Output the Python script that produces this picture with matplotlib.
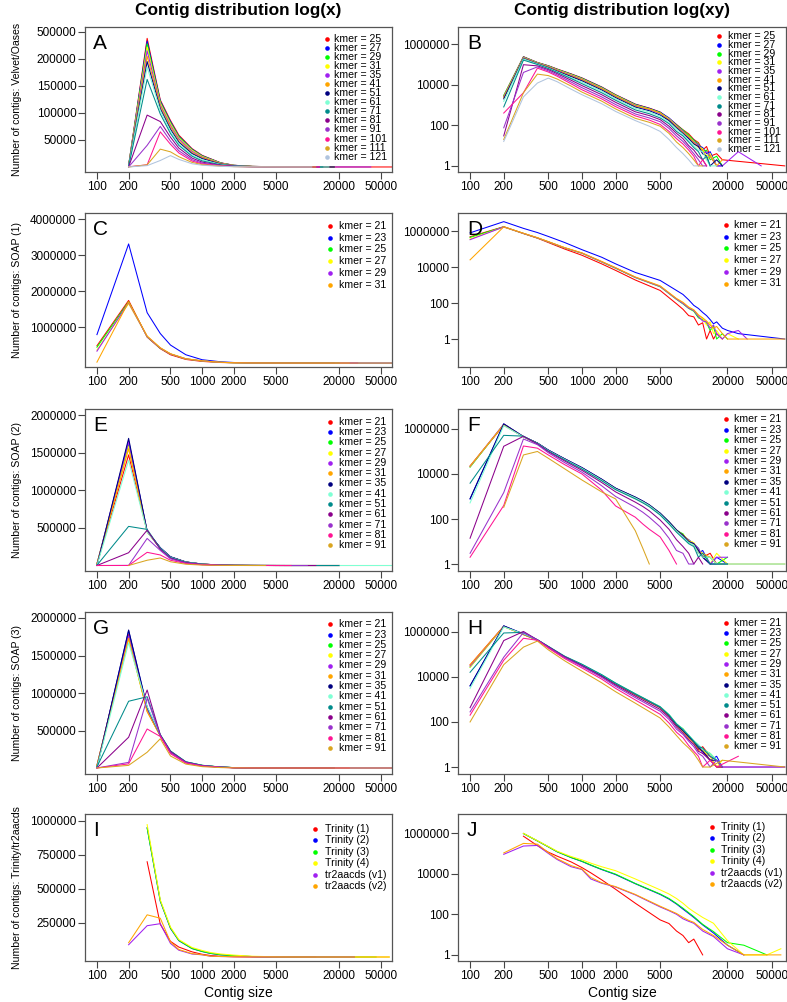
import numpy as np
import matplotlib
matplotlib.use("Agg")
import matplotlib.pyplot as plt

plt.rcParams["font.family"] = ["Liberation Sans", "DejaVu Sans"]

nan = np.nan

# ---------------------------------------------------------------
# Data: number of contigs per contig-size bin
# ---------------------------------------------------------------

# Velvet/Oases (panels A and B)
velvet_sizes = [200, 300, 400, 500, 600, 800, 1000, 1500, 2000, 3000,
                4000, 5000, 6000, 7000, 8000, 9000, 10000, 11000, 12000, 13000,
                14000, 16000, 18000, 25000, 40000, 65000]
velvet_labels = ["kmer = 25", "kmer = 27", "kmer = 29", "kmer = 31", "kmer = 35",
                 "kmer = 41", "kmer = 51", "kmer = 61", "kmer = 71", "kmer = 81",
                 "kmer = 91", "kmer = 101", "kmer = 111", "kmer = 121"]
velvet_counts = [
    [2800, 238000, 124000, 86000, 59000, 34000, 21500, 7700, 3200, 1100,
     700, 450, 220, 110, 60, 38, 20, 14, 6, 9, 3, 4, 2, nan, nan, 1],
    [2700, 233000, 122000, 84000, 57000, 33000, 20800, 7500, 3100, 1070,
     680, 440, 230, 105, 55, 30, 19, 10, 8, 4, 5, 1, 1, nan, nan, nan],
    [2900, 228000, 120000, 82000, 56000, 32000, 20200, 7200, 3000, 1030,
     650, 420, 200, 100, 58, 33, 18, 12, 5, 6, 2, 3, 1, nan, nan, nan],
    [2600, 222000, 118000, 80000, 54000, 31000, 19400, 6900, 2900, 990,
     630, 400, 210, 95, 50, 28, 16, 9, 7, 3, 4, 1, nan, nan, nan, nan],
    [2500, 215000, 115000, 77000, 52000, 29000, 18300, 6500, 2700, 940,
     600, 380, 190, 90, 52, 25, 15, 11, 4, 5, 3, 1, 1, 5, 1, nan],
    [2300, 205000, 112000, 74000, 49000, 27000, 17200, 6200, 2600, 880,
     620, 400, 180, 85, 45, 27, 14, 8, 6, 2, 3, 1, 2, nan, nan, nan],
    [2000, 195000, 108000, 70000, 46000, 25000, 15500, 5500, 2300, 790,
     520, 320, 170, 75, 40, 22, 12, 9, 4, 3, 1, 2, 1, nan, nan, nan],
    [1500, 185000, 104000, 66000, 43000, 22000, 13300, 4800, 2000, 680,
     450, 280, 140, 65, 35, 18, 10, 6, 5, 2, 1, 1, nan, nan, nan, nan],
    [800, 162000, 98000, 62000, 40000, 20000, 11200, 4000, 1700, 570,
     370, 230, 120, 50, 30, 15, 8, 5, 2, 3, 1, nan, nan, nan, nan, nan],
    [30, 96000, 84000, 55000, 35000, 16500, 9000, 3200, 1350, 460,
     300, 190, 90, 40, 22, 10, 6, 3, 2, 1, nan, nan, nan, nan, nan, nan],
    [75, 40000, 75000, 48000, 30000, 13500, 7100, 2500, 1050, 360,
     230, 150, 70, 30, 16, 8, 4, 2, 1, 1, nan, nan, nan, nan, nan, nan],
    [400, 4000, 65000, 42000, 26000, 11000, 5600, 2000, 830, 290,
     180, 110, 50, 22, 12, 6, 3, 1, 2, 1, nan, nan, nan, nan, nan, nan],
    [20, 4000, 33000, 28000, 19000, 8500, 4300, 1550, 640, 220,
     140, 90, 40, 15, 8, 4, 2, 1, 1, nan, nan, nan, nan, nan, nan, nan],
    [16, 2500, 12000, 21000, 14000, 6000, 3200, 1150, 480, 170,
     90, 50, 20, 8, 4, 2, 1, 1, nan, nan, nan, nan, nan, nan, nan, nan],
]

# SOAP (1) (panels C and D)
soap1_sizes = [100, 200, 300, 400, 500, 700, 1000, 1500, 2000, 3000,
               5000, 7000, 8000, 9000, 10000, 11000, 12000, 13000, 14000, 15000,
               16000, 18000, 20000, 25000, 30000, 65000]
soap1_labels = ["kmer = 21", "kmer = 23", "kmer = 25", "kmer = 27", "kmer = 29", "kmer = 31"]
soap1_counts = [
    [480000, 1740000, 720000, 400000, 230000, 100000, 45000, 15000, 6500, 1900,
     500, 91, 45, 20, 17, 6, 8, 1, 3, 1, 2, 1, nan, nan, nan, nan],
    [790000, 3310000, 1400000, 820000, 500000, 230000, 92000, 35000, 15000, 5000,
     1800, 500, 300, 150, 74, 50, 30, 20, 12, 7, 9, 4, 3, 2, nan, 1],
    [440000, 1700000, 730000, 410000, 250000, 115000, 58000, 19000, 8500, 2600,
     800, 160, 90, 50, 35, 15, 12, 8, 3, 5, 1, 2, 1, nan, nan, nan],
    [360000, 1650000, 740000, 420000, 255000, 118000, 60000, 20000, 9000, 2700,
     850, 170, 100, 55, 40, 20, 14, 6, 9, 2, 3, 1, 2, 1, nan, nan],
    [330000, 1680000, 735000, 415000, 252000, 117000, 59000, 19500, 8800, 2650,
     830, 165, 95, 52, 38, 18, 10, 9, 4, 6, 2, 1, 2, 3, 1, nan],
    [25000, 1700000, 750000, 425000, 258000, 120000, 61000, 20500, 9200, 2800,
     900, 180, 110, 60, 42, 22, 15, 10, 6, 4, 5, 2, 1, 1, 1, 1],
]

# SOAP (2) (panels E and F)
soap2_sizes = [100, 200, 300, 400, 500, 700, 1000, 1500, 2000, 3000,
               3500, 4000, 5000, 6000, 7000, 8000, 9000, 10000, 11000, 12000,
               14000, 16000, 20000, 65000]
soap_labels = ["kmer = 21", "kmer = 23", "kmer = 25", "kmer = 27", "kmer = 29",
               "kmer = 31", "kmer = 35", "kmer = 41", "kmer = 51", "kmer = 61",
               "kmer = 71", "kmer = 81", "kmer = 91"]
soap2_counts = [
    [22000, 1470000, 450000, 230000, 110000, 45000, 18000, 5500, 2200, 880,
     600, 400, 170, 70, 30, 20, 10, 7, 4, 2, 3, 1, 1, nan],
    [770, 1660000, 455000, 235000, 115000, 47000, 19000, 5800, 2300, 920,
     620, 420, 180, 75, 32, 18, 12, 8, 3, 4, 1, 2, 1, nan],
    [20000, 1600000, 452000, 232000, 112000, 46000, 18500, 5600, 2250, 900,
     610, 410, 175, 72, 31, 22, 9, 8, 5, 2, 2, 1, 2, nan],
    [21000, 1580000, 450000, 230000, 111000, 45500, 18300, 5600, 2250, 900,
     600, 415, 178, 74, 33, 19, 11, 9, 4, 3, 1, 3, 1, nan],
    [22000, 1640000, 453000, 233000, 113000, 46500, 18700, 5700, 2280, 910,
     615, 405, 176, 70, 32, 17, 10, 8, 5, 2, 1, 2, 2, nan],
    [23000, 1550000, 448000, 229000, 110000, 45000, 18000, 5500, 2200, 880,
     590, 400, 172, 68, 30, 20, 11, 7, 3, 3, 2, 1, 1, 1],
    [800, 1690000, 456000, 236000, 116000, 47500, 19200, 5900, 2350, 940,
     630, 425, 182, 76, 33, 19, 10, 8, 4, 2, 1, 1, 1, nan],
    [520, 1400000, 445000, 228000, 109000, 44500, 17800, 5400, 2150, 860,
     580, 390, 165, 66, 29, 16, 9, 7, 3, 2, 2, 1, 1, 1],
    [3900, 520000, 480000, 225000, 105000, 42000, 16500, 5000, 2000, 780,
     520, 350, 150, 60, 26, 14, 8, 6, 2, 3, 1, 1, 1, nan],
    [14, 170000, 470000, 215000, 98000, 38000, 14500, 4200, 1600, 560,
     360, 230, 90, 35, 12, 6, 3, 1, 2, 1, nan, nan, nan, nan],
    [3, 1500, 360000, 200000, 88000, 32000, 12000, 3000, 1000, 330,
     200, 120, 45, 14, 4, 3, 1, 1, nan, nan, nan, nan, nan, nan],
    [2, 400, 175000, 140000, 70000, 26000, 10000, 1900, 380, 120,
     60, 35, 16, 4, 1, nan, nan, nan, nan, nan, nan, nan, nan, nan],
    [nan, 330, 70000, 100000, 50000, 17000, 5400, 1600, 780, 30,
     5, 1, nan, nan, nan, nan, nan, nan, nan, nan, nan, nan, nan, nan],
]

# SOAP (3) (panels G and H)
soap3_sizes = [100, 200, 300, 400, 500, 700, 1000, 1500, 2000, 3000,
               5000, 6000, 7000, 8000, 9000, 10000, 11000, 12000, 14000, 16000,
               18000, 25000, 65000]
soap3_counts = [
    [34000, 1780000, 760000, 430000, 210000, 75000, 32000, 11000, 4800, 1600,
     430, 180, 70, 40, 20, 12, 6, 8, 3, 1, 1, nan, nan],
    [4000, 1830000, 800000, 435000, 215000, 78000, 33000, 11500, 5000, 1700,
     450, 200, 75, 45, 22, 13, 8, 5, 2, 3, 1, nan, nan],
    [27000, 1740000, 770000, 432000, 220000, 80000, 35000, 12000, 5200, 1750,
     470, 210, 80, 50, 25, 14, 9, 6, 4, 2, 1, nan, nan],
    [27000, 1720000, 765000, 430000, 218000, 79000, 34500, 11800, 5100, 1720,
     460, 195, 78, 42, 21, 13, 7, 5, 3, 1, 2, nan, nan],
    [30000, 1760000, 780000, 433000, 217000, 78500, 34000, 11700, 5000, 1700,
     455, 190, 76, 44, 24, 12, 9, 4, 3, 2, 1, nan, 1],
    [34000, 1730000, 750000, 428000, 212000, 76000, 33000, 11200, 4900, 1650,
     440, 185, 72, 38, 19, 12, 5, 6, 2, 1, 1, nan, nan],
    [4000, 1840000, 810000, 437000, 216000, 78000, 33500, 11600, 5000, 1700,
     450, 195, 74, 41, 22, 13, 7, 5, 2, 2, 1, nan, nan],
    [3100, 1670000, 820000, 440000, 225000, 82000, 36000, 12500, 5300, 1800,
     480, 215, 85, 48, 26, 15, 10, 6, 4, 2, 1, nan, nan],
    [16000, 890000, 950000, 445000, 228000, 83000, 36500, 12600, 5300, 1780,
     470, 205, 82, 46, 25, 14, 8, 7, 3, 2, 1, nan, nan],
    [430, 410000, 1040000, 440000, 220000, 78000, 32000, 10500, 4300, 1400,
     360, 160, 60, 32, 16, 10, 5, 4, 2, 1, 1, nan, nan],
    [280, 75000, 930000, 430000, 205000, 72000, 29000, 9500, 3800, 1200,
     300, 130, 48, 28, 14, 8, 4, 3, 1, 2, 1, nan, 1],
    [200, 55000, 520000, 420000, 190000, 65000, 25000, 8000, 3100, 950,
     220, 90, 35, 20, 9, 5, 3, 1, 2, 1, nan, 3, nan],
    [100, 35000, 210000, 390000, 160000, 52000, 18000, 5500, 2200, 680,
     150, 60, 25, 12, 7, 4, 2, 1, 1, nan, 2, nan, 1],
]

# Trinity / tr2aacds (panels I and J)
trinity_sizes = [200, 300, 400, 500, 600, 800, 1000, 1200, 1500, 2000,
                 3000, 5000, 6000, 7000, 8000, 9000, 10000, 12000, 15000, 20000,
                 28000, 45000, 60000]
trinity_labels = ["Trinity (1)", "Trinity (2)", "Trinity (3)", "Trinity (4)",
                  "tr2aacds (v1)", "tr2aacds (v2)"]
trinity_counts = [
    [nan, 700000, 240000, 115000, 73000, 38000, 20000, 11000, 5000, 1700,
     350, 53, 35, 15, 9, 4, 6, 1, nan, nan, nan, nan, nan],
    [nan, 950000, 410000, 210000, 120000, 62000, 40000, 26000, 16000, 9000,
     3200, 950, 560, 320, 180, 110, 70, 30, 12, 3, 1, nan, nan],
    [nan, 948000, 412000, 213000, 122000, 63000, 41000, 27000, 16500, 9500,
     3300, 1000, 600, 340, 200, 120, 77, 32, 14, 4, 3, 1, nan],
    [nan, 973000, 420000, 220000, 128000, 70000, 48000, 33000, 22000, 14000,
     5500, 1600, 1000, 600, 350, 200, 134, 70, 36, 5, 1, 1, 2],
    [90000, 230000, 245000, 100000, 50000, 22000, 16000, 5500, 3400, 2200,
     900, 230, 150, 100, 60, 45, 36, 15, 8, 2, 1, nan, nan],
    [105000, 310000, 285000, 110000, 55000, 25000, 17000, 6500, 3600, 2300,
     950, 250, 160, 110, 70, 50, 40, 18, 9, 3, 1, 1, 1],
]

kmer_colors = ["#FF0000", "#0000FF", "#00FF00", "#FFFF00", "#A020F0", "#FFA500",
               "#000080", "#7FFFD4", "#008B8B", "#8B008B", "#9932CC", "#FF1493",
               "#DAA520", "#B0C4DE"]

size_ticks = [100, 200, 500, 1000, 2000, 5000, 20000, 50000]
log_ticks = [1, 100, 10000, 1000000]

# ---------------------------------------------------------------
# Layout (pixel boxes of the original figure)
# ---------------------------------------------------------------
W, H = 787, 1002
fig = plt.figure(figsize=(W / 100, H / 100), dpi=100)

rows = [(27, 172), (213, 367), (409, 571), (612, 774), (814, 961)]
left_col = (85, 392)
right_col = (458, 786)


def px_axes(col, row):
    x0, x1 = col
    y0, y1 = row
    return fig.add_axes([x0 / W, 1 - y1 / H, (x1 - x0) / W, (y1 - y0) / H])


def draw_lines(ax, sizes, counts, colors):
    x = np.array(sizes, dtype=float)
    for row, col in zip(counts, colors):
        y = np.array(row, dtype=float)
        keep = ~np.isnan(y)
        ax.plot(x[keep], y[keep], color=col, lw=0.75)


def style(ax, xlim, ylim, yticks, yticklabels, log_y):
    ax.set_xscale("log")
    if log_y:
        ax.set_yscale("log")
    ax.set_xlim(xlim)
    ax.set_ylim(ylim)
    ax.set_xticks(size_ticks)
    ax.set_xticklabels([str(t) for t in size_ticks])
    ax.set_yticks(yticks)
    ax.set_yticklabels(yticklabels)
    ax.minorticks_off()
    ax.tick_params(direction="out", length=5, width=0.8, color="#444444",
                   labelsize=8.5, pad=1.2)
    for s in ax.spines.values():
        s.set_color("#555555")
        s.set_linewidth(0.9)


def draw_key(ax, col, row, labels, colors, dot_x, first_y, step, gap):
    x0, x1 = col
    y0, y1 = row
    fx = (dot_x - x0) / (x1 - x0)
    tx = (dot_x + gap - x0) / (x1 - x0)
    for i, (lab, c) in enumerate(zip(labels, colors)):
        fy = 1 - (first_y + i * step - y0) / (y1 - y0)
        ax.plot([fx], [fy], "o", color=c, ms=3.3, mec="none",
                transform=ax.transAxes, clip_on=False)
        ax.text(tx, fy, lab, transform=ax.transAxes, va="center", ha="left",
                fontsize=7.6)


panels = [
    # letters, ylabel, sizes, counts, labels, colors, linear axis, log axis, key positions
    ("A", "B", "Number of contigs: Velvet/Oases", velvet_sizes, velvet_counts,
     velvet_labels, kmer_colors,
     (-9300, 259000), [50000, 100000, 150000, 200000, 250000],
     ["50000", "100000", "150000", "200000", "500000"],
     (0.5, 6.9e6), (327, 39, 9.05, 7), (719, 36.3, 8.67, 9)),
    ("C", "D", "Number of contigs: SOAP (1)", soap1_sizes, soap1_counts,
     soap1_labels, kmer_colors[:6],
     (-110000, 4170000), [1000000, 2000000, 3000000, 4000000],
     ["1000000", "2000000", "3000000", "4000000"],
     (0.028, 1e7), (330, 226, 11.7, 9), (726, 225, 11.7, 8.3)),
    ("E", "F", "Number of contigs: SOAP (2)", soap2_sizes, soap2_counts,
     soap_labels, kmer_colors[:13],
     (-73000, 2080000), [500000, 1000000, 1500000, 2000000],
     ["500000", "1000000", "1500000", "2000000"],
     (0.49, 7.7e6), (330, 421.7, 10.3, 9), (726, 419.3, 10.4, 8.3)),
    ("G", "H", "Number of contigs: SOAP (3)", soap3_sizes, soap3_counts,
     soap_labels, kmer_colors[:13],
     (-80000, 2080000), [500000, 1000000, 1500000, 2000000],
     ["500000", "1000000", "1500000", "2000000"],
     (0.49, 7.6e6), (330, 624.3, 10.3, 9), (726, 622.7, 10.3, 8.3)),
    ("I", "J", "Number of contigs: Trinity/tr2aacds", trinity_sizes, trinity_counts,
     trinity_labels, kmer_colors[:6],
     (-29400, 1051000), [250000, 500000, 750000, 1000000],
     ["250000", "500000", "750000", "1000000"],
     (0.5, 8.7e6), (315, 829, 11.4, 10), (711.7, 826.7, 11.5, 9)),
]

for row, p in zip(rows, panels):
    (let_l, let_r, ylab, sizes, counts, labels, colors,
     lin_lim, lin_ticks, lin_labels, log_lim, key_l, key_r) = p

    # linear y panel
    ax = px_axes(left_col, row)
    draw_lines(ax, sizes, counts, colors)
    style(ax, (77, 63700), lin_lim, lin_ticks, lin_labels, False)
    ax.text(0.026, 0.955, let_l, transform=ax.transAxes, va="top", ha="left", fontsize=15)
    draw_key(ax, left_col, row, labels, colors, *key_l)
    fig.text(17 / W, 1 - (row[0] + row[1]) / 2 / H, ylab, rotation=90,
             ha="center", va="center", fontsize=7.6)

    # log-log panel
    ax = px_axes(right_col, row)
    draw_lines(ax, sizes, counts, colors)
    style(ax, (78, 66700), log_lim, log_ticks, [str(t) for t in log_ticks], True)
    ax.text(0.027, 0.955, let_r, transform=ax.transAxes, va="top", ha="left", fontsize=15)
    draw_key(ax, right_col, row, labels, colors, *key_r)

fig.text(238 / W, 1 - 10 / H, "Contig distribution log(x)", ha="center", va="center",
         fontsize=12.4, fontweight="bold")
fig.text(622 / W, 1 - 10 / H, "Contig distribution log(xy)", ha="center", va="center",
         fontsize=12.4, fontweight="bold")
fig.text(238 / W, 1 - 993 / H, "Contig size", ha="center", va="center", fontsize=10)
fig.text(622 / W, 1 - 993 / H, "Contig size", ha="center", va="center", fontsize=10)

fig.savefig("out.png", dpi=100)
